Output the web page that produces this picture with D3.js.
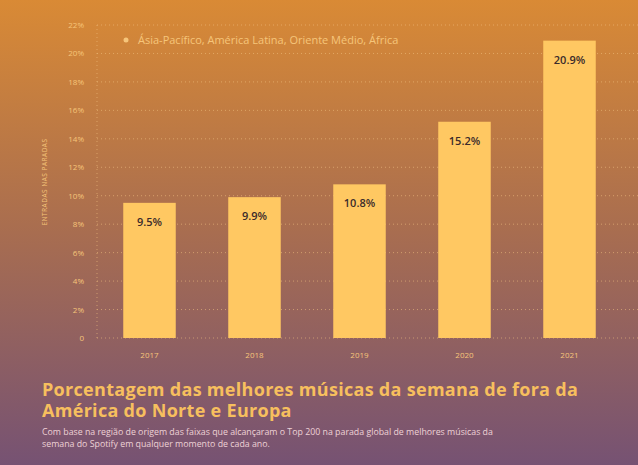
<!DOCTYPE html>
<html><head><meta charset="utf-8">
<script src="https://cdn.jsdelivr.net/npm/d3@7"></script>
<style>body{margin:0;}svg{display:block;font-family:"Open Sans",sans-serif;}</style>
</head><body><svg id="c" width="638" height="465"></svg>
<script>
const years = ["2017","2018","2019","2020","2021"];
const values = [9.5, 9.9, 10.8, 15.2, 20.9];
const ticks = [0,2,4,6,8,10,12,14,16,18,20,22];
const svg = d3.select("#c");
const defs = svg.append("defs");
const g = defs.append("linearGradient").attr("id","bg").attr("x1",0).attr("y1",0).attr("x2",0).attr("y2",1);
g.append("stop").attr("offset","0%").attr("stop-color","#d98a35");
g.append("stop").attr("offset","50%").attr("stop-color","#a86d50");
g.append("stop").attr("offset","100%").attr("stop-color","#765273");
svg.append("rect").attr("width",638).attr("height",465).attr("fill","url(#bg)");
const x = d3.scaleBand().domain(years).range([97,622]).paddingInner(0.5).paddingOuter(0.25);
const y = d3.scaleLinear().domain([0,22]).range([338,25]);
const txt="#f6c57a";
svg.append("g").selectAll("line").data(ticks).join("line")
 .attr("x1",97).attr("x2",638).attr("y1",d=>y(d)).attr("y2",d=>y(d))
 .attr("stroke","#f0c080").attr("stroke-opacity",0.6).attr("stroke-dasharray","1,3");
svg.append("line").attr("x1",97).attr("x2",97).attr("y1",y(22)).attr("y2",y(0))
 .attr("stroke","#f0c080").attr("stroke-opacity",0.6).attr("stroke-dasharray","1,3");
svg.append("g").selectAll("text").data(ticks).join("text")
 .attr("x",84).attr("y",d=>y(d)+3).attr("text-anchor","end").attr("font-size",8).attr("fill",txt)
 .text(d=>d===0?"0":d+"%");
svg.append("text").attr("transform","translate(47,182) rotate(-90)").attr("text-anchor","middle")
 .attr("font-size",6.5).attr("fill",txt).attr("letter-spacing",0.5).text("ENTRADAS NAS PARADAS");
svg.append("g").selectAll("rect").data(values).join("rect")
 .attr("x",(d,i)=>x(years[i])).attr("width",x.bandwidth())
 .attr("y",d=>y(d)).attr("height",d=>y(0)-y(d)).attr("fill","#ffc862");
svg.append("g").selectAll("text").data(values).join("text")
 .attr("x",(d,i)=>x(years[i])+x.bandwidth()/2).attr("y",d=>y(d)+23)
 .attr("text-anchor","middle").attr("font-size",11).attr("font-weight",600).attr("fill","#3b2b2b")
 .text(d=>d.toFixed(1)+"%");
svg.append("g").selectAll("text").data(years).join("text")
 .attr("x",d=>x(d)+x.bandwidth()/2).attr("y",358).attr("text-anchor","middle")
 .attr("font-size",8).attr("fill",txt).text(d=>d);
svg.append("circle").attr("cx",126).attr("cy",40).attr("r",2.5).attr("fill","#f6c57a");
svg.append("text").attr("x",138).attr("y",44).attr("font-size",11).attr("fill","#f6c57a")
 .text("Ásia-Pacífico, América Latina, Oriente Médio, África");
const t = svg.append("text").attr("font-size",18).attr("font-weight",700).attr("fill","#f7bf5e").attr("letter-spacing",0.3);
t.append("tspan").attr("x",42).attr("y",396).text("Porcentagem das melhores músicas da semana de fora da");
t.append("tspan").attr("x",42).attr("y",417).text("América do Norte e Europa");
const s = svg.append("text").attr("font-size",8.8).attr("fill","#eed2d6");
s.append("tspan").attr("x",42).attr("y",435).text("Com base na região de origem das faixas que alcançaram o Top 200 na parada global de melhores músicas da");
s.append("tspan").attr("x",42).attr("y",447).text("semana do Spotify em qualquer momento de cada ano.");
</script></body></html>
